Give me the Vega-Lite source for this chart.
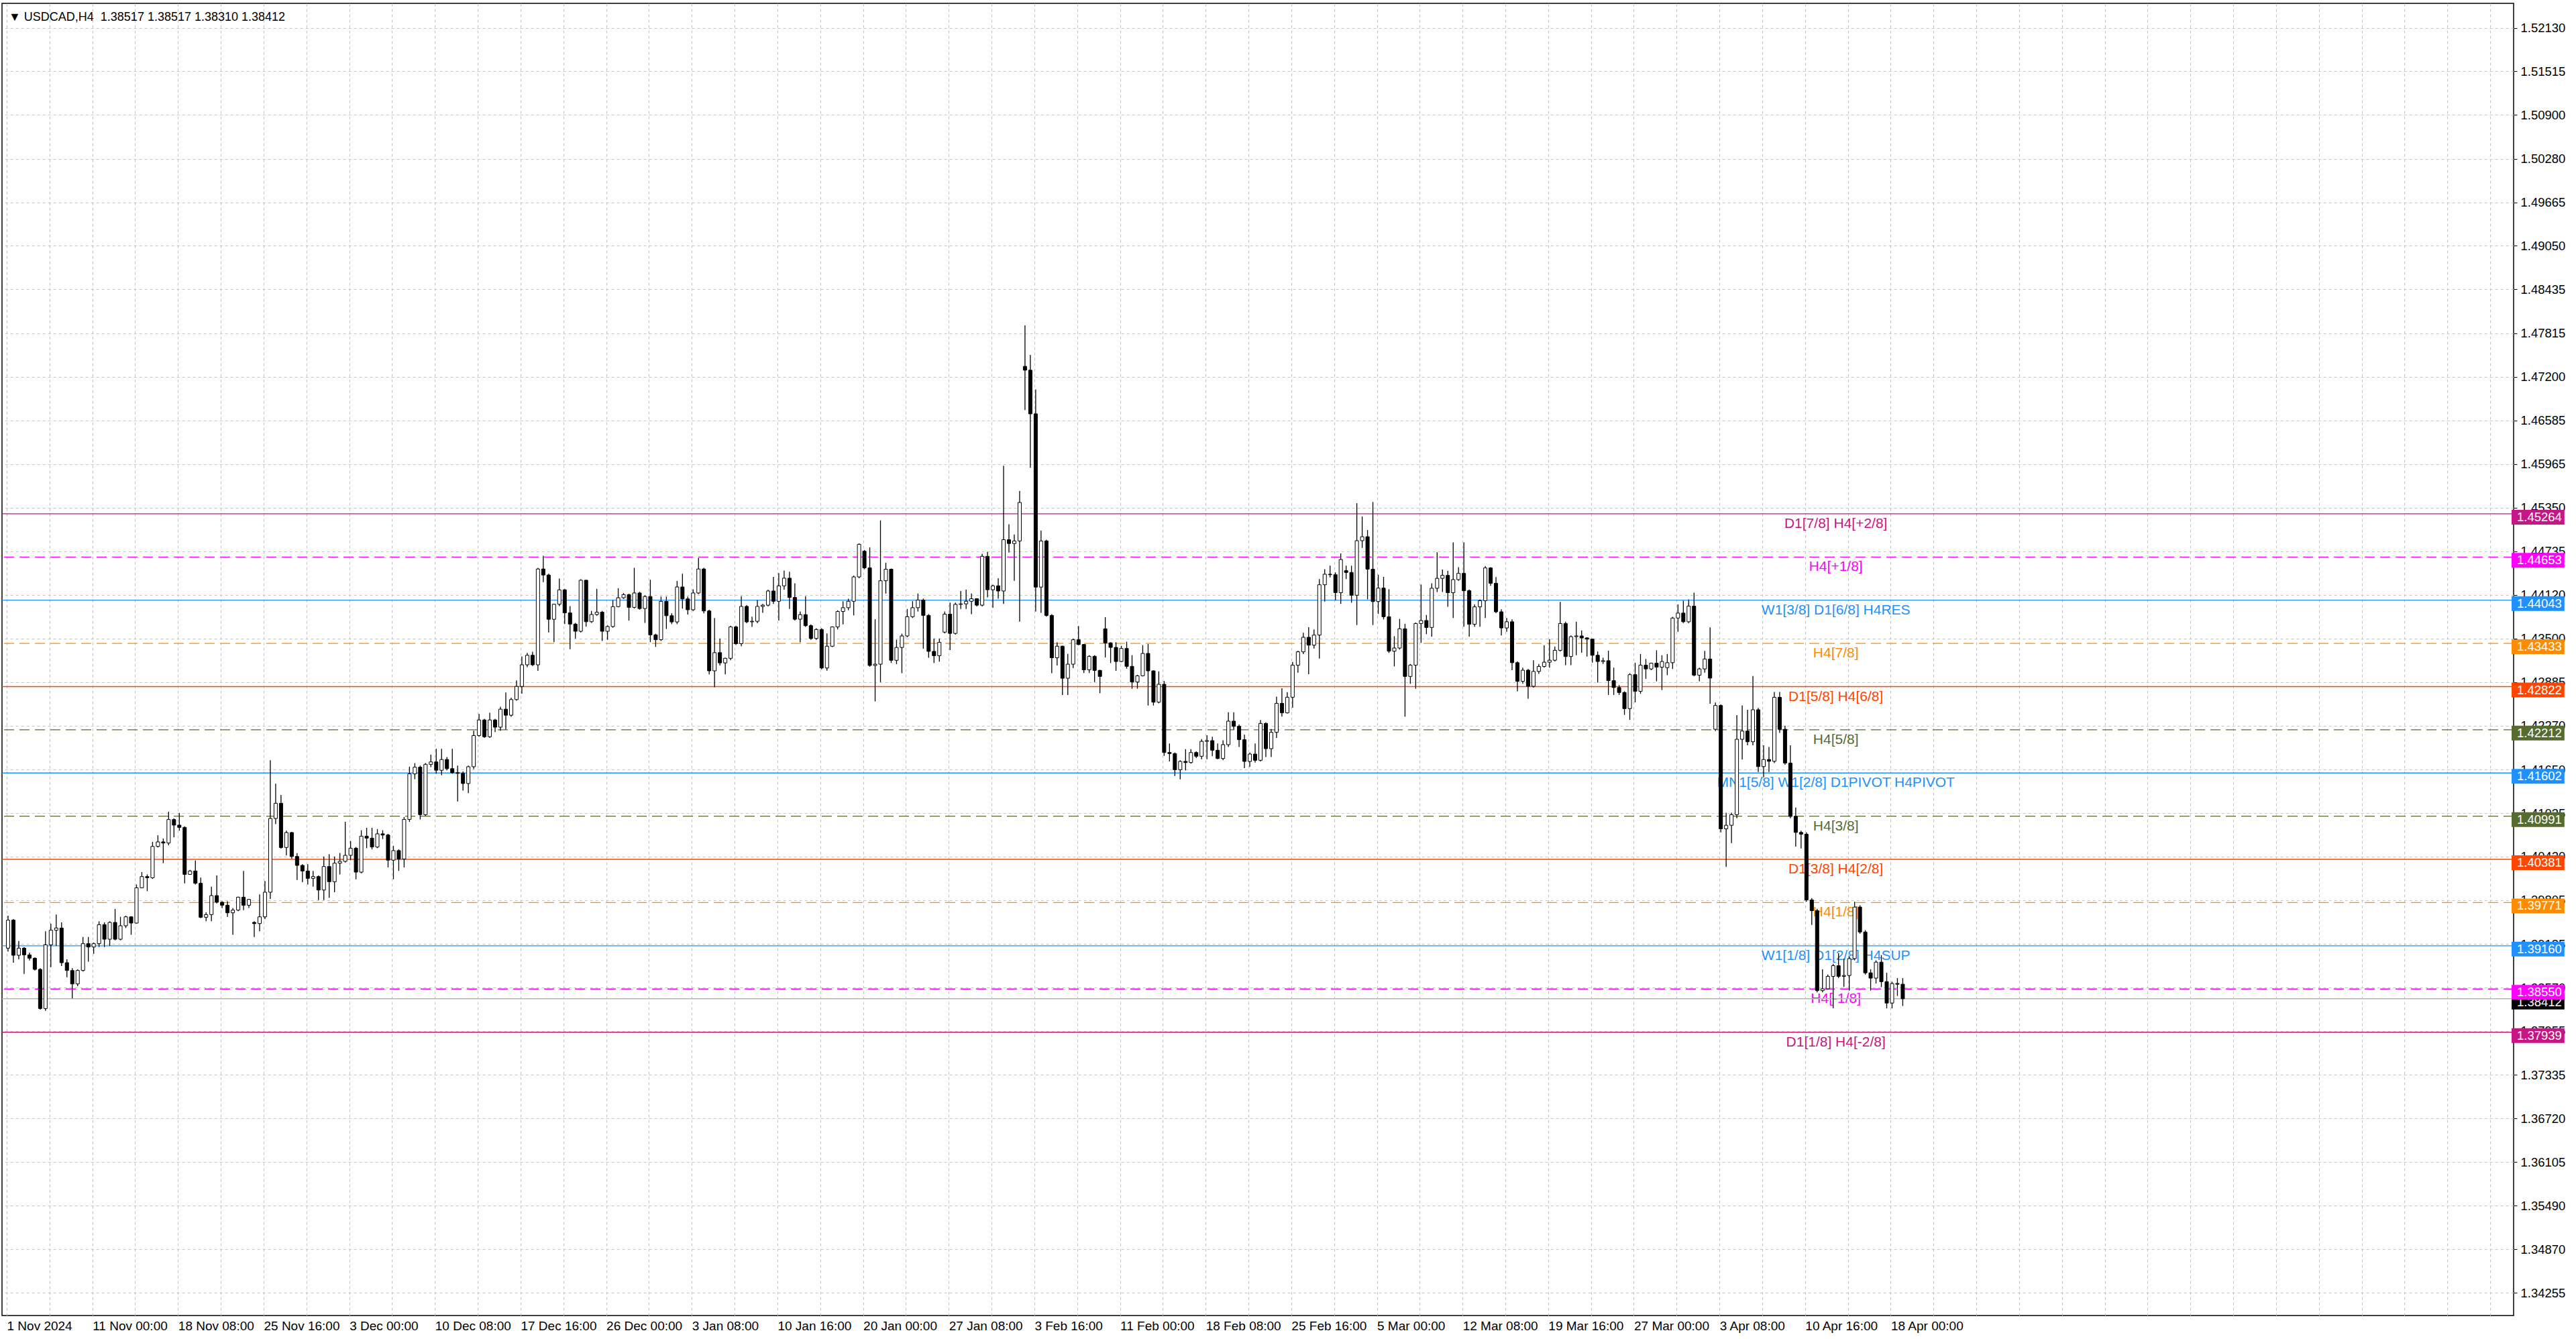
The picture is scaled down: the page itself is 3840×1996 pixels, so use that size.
{
"$schema":"https://vega.github.io/schema/vega-lite/v6.json",
"width":3744,"height":1956,
"autosize":{"type":"none"},
"padding":{"left":3,"top":5,"right":93,"bottom":35},
"background":"white",
"config":{"view":{"stroke":"black","strokeWidth":1.5}},
"datasets":{
"levels":[
{"p":1.45264,"oct":10,"txt":"D1[7/8] H4[+2/8]"},
{"p":1.44653,"oct":9,"txt":"H4[+1/8]"},
{"p":1.44043,"oct":8,"txt":"W1[3/8] D1[6/8] H4RES"},
{"p":1.43433,"oct":7,"txt":"H4[7/8]"},
{"p":1.42822,"oct":6,"txt":"D1[5/8] H4[6/8]"},
{"p":1.42212,"oct":5,"txt":"H4[5/8]"},
{"p":1.41602,"oct":4,"txt":"MN1[5/8] W1[2/8] D1PIVOT H4PIVOT"},
{"p":1.40991,"oct":3,"txt":"H4[3/8]"},
{"p":1.40381,"oct":2,"txt":"D1[3/8] H4[2/8]"},
{"p":1.39771,"oct":1,"txt":"H4[1/8]"},
{"p":1.39160,"oct":0,"txt":"W1[1/8] D1[2/8] H4SUP"},
{"p":1.38550,"oct":-1,"txt":"H4[-1/8]"},
{"p":1.37939,"oct":-2,"txt":"D1[1/8] H4[-2/8]"}
],
"last":[{"p":1.38412}],
"head":[{"txt":"▼ USDCAD,H4\u00a0\u00a01.38517 1.38517 1.38310 1.38412"}],
"bars":[
{"i":0,"o":1.39127,"h":1.39585,"l":1.39079,"c":1.39522},
{"i":2,"o":1.39522,"h":1.39537,"l":1.38921,"c":1.39026},
{"i":4,"o":1.39026,"h":1.39228,"l":1.38969,"c":1.39127},
{"i":6,"o":1.39127,"h":1.39143,"l":1.38763,"c":1.39032},
{"i":8,"o":1.39032,"h":1.39064,"l":1.38953,"c":1.38985},
{"i":10,"o":1.38985,"h":1.38994,"l":1.38811,"c":1.38827},
{"i":12,"o":1.38827,"h":1.38843,"l":1.38258,"c":1.38274},
{"i":14,"o":1.38274,"h":1.39364,"l":1.38242,"c":1.39174},
{"i":16,"o":1.39174,"h":1.39474,"l":1.38858,"c":1.39380},
{"i":18,"o":1.39380,"h":1.39601,"l":1.39159,"c":1.39411},
{"i":20,"o":1.39411,"h":1.39490,"l":1.38874,"c":1.38921},
{"i":22,"o":1.38921,"h":1.38969,"l":1.38716,"c":1.38811},
{"i":24,"o":1.38811,"h":1.38843,"l":1.38416,"c":1.38621},
{"i":26,"o":1.38621,"h":1.38827,"l":1.38589,"c":1.38811},
{"i":28,"o":1.38811,"h":1.39285,"l":1.38795,"c":1.39190},
{"i":30,"o":1.39190,"h":1.39285,"l":1.38937,"c":1.39143},
{"i":32,"o":1.39143,"h":1.39206,"l":1.39048,"c":1.39190},
{"i":34,"o":1.39190,"h":1.39506,"l":1.39143,"c":1.39459},
{"i":36,"o":1.39459,"h":1.39490,"l":1.39143,"c":1.39253},
{"i":38,"o":1.39253,"h":1.39506,"l":1.39159,"c":1.39490},
{"i":40,"o":1.39490,"h":1.39680,"l":1.39237,"c":1.39253},
{"i":42,"o":1.39253,"h":1.39569,"l":1.39237,"c":1.39443},
{"i":44,"o":1.39443,"h":1.39585,"l":1.39411,"c":1.39569},
{"i":46,"o":1.39569,"h":1.39577,"l":1.39316,"c":1.39481},
{"i":48,"o":1.39481,"h":1.40027,"l":1.39474,"c":1.39980},
{"i":50,"o":1.39980,"h":1.40201,"l":1.39973,"c":1.40138},
{"i":52,"o":1.40138,"h":1.40169,"l":1.39932,"c":1.40122},
{"i":54,"o":1.40122,"h":1.40628,"l":1.40106,"c":1.40564},
{"i":56,"o":1.40564,"h":1.40722,"l":1.40549,"c":1.40628},
{"i":58,"o":1.40628,"h":1.40675,"l":1.40327,"c":1.40612},
{"i":60,"o":1.40612,"h":1.41054,"l":1.40580,"c":1.40944},
{"i":62,"o":1.40944,"h":1.40959,"l":1.40691,"c":1.40865},
{"i":64,"o":1.40865,"h":1.41038,"l":1.40786,"c":1.40833},
{"i":66,"o":1.40833,"h":1.40849,"l":1.40043,"c":1.40169},
{"i":68,"o":1.40169,"h":1.40233,"l":1.40163,"c":1.40217},
{"i":70,"o":1.40217,"h":1.40365,"l":1.40027,"c":1.40043},
{"i":72,"o":1.40043,"h":1.40122,"l":1.39553,"c":1.39563},
{"i":74,"o":1.39563,"h":1.39632,"l":1.39506,"c":1.39601},
{"i":76,"o":1.39601,"h":1.39996,"l":1.39506,"c":1.39869},
{"i":78,"o":1.39869,"h":1.40154,"l":1.39759,"c":1.39775},
{"i":80,"o":1.39775,"h":1.39790,"l":1.39695,"c":1.39733},
{"i":82,"o":1.39733,"h":1.39790,"l":1.39569,"c":1.39626},
{"i":84,"o":1.39626,"h":1.39695,"l":1.39316,"c":1.39664},
{"i":86,"o":1.39664,"h":1.39853,"l":1.39648,"c":1.39847},
{"i":88,"o":1.39847,"h":1.40217,"l":1.39664,"c":1.39733},
{"i":90,"o":1.39733,"h":1.39822,"l":1.39695,"c":1.39815},
{"i":92,"o":1.39490,"h":1.39506,"l":1.39285,"c":1.39474},
{"i":94,"o":1.39474,"h":1.39885,"l":1.39364,"c":1.39569},
{"i":96,"o":1.39569,"h":1.40075,"l":1.39538,"c":1.39917},
{"i":98,"o":1.39917,"h":1.41781,"l":1.39822,"c":1.40959},
{"i":100,"o":1.40959,"h":1.41449,"l":1.40880,"c":1.41174},
{"i":102,"o":1.41174,"h":1.41291,"l":1.40533,"c":1.40549},
{"i":104,"o":1.40549,"h":1.40786,"l":1.40438,"c":1.40760},
{"i":106,"o":1.40760,"h":1.40770,"l":1.40391,"c":1.40422},
{"i":108,"o":1.40422,"h":1.40470,"l":1.40090,"c":1.40296},
{"i":110,"o":1.40296,"h":1.40312,"l":1.40059,"c":1.40217},
{"i":112,"o":1.40217,"h":1.40312,"l":1.40027,"c":1.40113},
{"i":114,"o":1.40113,"h":1.40217,"l":1.39996,"c":1.40138},
{"i":116,"o":1.40138,"h":1.40154,"l":1.39806,"c":1.39948},
{"i":118,"o":1.39948,"h":1.40422,"l":1.39806,"c":1.40280},
{"i":120,"o":1.40280,"h":1.40454,"l":1.39838,"c":1.40065},
{"i":122,"o":1.40065,"h":1.40422,"l":1.39917,"c":1.40327},
{"i":124,"o":1.40327,"h":1.40471,"l":1.40167,"c":1.40353},
{"i":126,"o":1.40353,"h":1.40912,"l":1.40336,"c":1.40438},
{"i":128,"o":1.40438,"h":1.40641,"l":1.40370,"c":1.40539},
{"i":130,"o":1.40539,"h":1.40556,"l":1.40099,"c":1.40201},
{"i":132,"o":1.40201,"h":1.40793,"l":1.40184,"c":1.40709},
{"i":134,"o":1.40709,"h":1.40827,"l":1.40539,"c":1.40681},
{"i":136,"o":1.40681,"h":1.40827,"l":1.40522,"c":1.40556},
{"i":138,"o":1.40556,"h":1.40810,"l":1.40539,"c":1.40742},
{"i":140,"o":1.40742,"h":1.40793,"l":1.40668,"c":1.40725},
{"i":142,"o":1.40725,"h":1.40742,"l":1.40268,"c":1.40370},
{"i":144,"o":1.40370,"h":1.40573,"l":1.40099,"c":1.40505},
{"i":146,"o":1.40505,"h":1.40522,"l":1.40218,"c":1.40387},
{"i":148,"o":1.40387,"h":1.40980,"l":1.40268,"c":1.40946},
{"i":150,"o":1.40946,"h":1.41690,"l":1.40912,"c":1.41589},
{"i":152,"o":1.41589,"h":1.41741,"l":1.41514,"c":1.41684},
{"i":154,"o":1.41684,"h":1.41707,"l":1.40946,"c":1.41013},
{"i":156,"o":1.41013,"h":1.41741,"l":1.40996,"c":1.41724},
{"i":158,"o":1.41724,"h":1.41860,"l":1.41684,"c":1.41758},
{"i":160,"o":1.41758,"h":1.41944,"l":1.41589,"c":1.41640},
{"i":162,"o":1.41640,"h":1.41944,"l":1.41572,"c":1.41792},
{"i":164,"o":1.41792,"h":1.41826,"l":1.41640,"c":1.41663},
{"i":166,"o":1.41663,"h":1.41944,"l":1.41589,"c":1.41606},
{"i":168,"o":1.41606,"h":1.41707,"l":1.41199,"c":1.41596},
{"i":170,"o":1.41596,"h":1.41623,"l":1.41352,"c":1.41453},
{"i":172,"o":1.41453,"h":1.41707,"l":1.41318,"c":1.41690},
{"i":174,"o":1.41690,"h":1.42198,"l":1.41657,"c":1.42131},
{"i":176,"o":1.42131,"h":1.42435,"l":1.42114,"c":1.42351},
{"i":178,"o":1.42351,"h":1.42368,"l":1.42097,"c":1.42114},
{"i":180,"o":1.42114,"h":1.42452,"l":1.42097,"c":1.42351},
{"i":182,"o":1.42351,"h":1.42368,"l":1.42181,"c":1.42249},
{"i":184,"o":1.42249,"h":1.42537,"l":1.42198,"c":1.42503},
{"i":186,"o":1.42503,"h":1.42740,"l":1.42215,"c":1.42418},
{"i":188,"o":1.42418,"h":1.42666,"l":1.42395,"c":1.42639},
{"i":190,"o":1.42639,"h":1.42909,"l":1.42622,"c":1.42825},
{"i":192,"o":1.42825,"h":1.43248,"l":1.42723,"c":1.43130},
{"i":194,"o":1.43130,"h":1.43299,"l":1.43096,"c":1.43265},
{"i":196,"o":1.43265,"h":1.43316,"l":1.43113,"c":1.43130},
{"i":198,"o":1.43130,"h":1.44501,"l":1.43045,"c":1.44484},
{"i":200,"o":1.44484,"h":1.44670,"l":1.44298,"c":1.44399},
{"i":202,"o":1.44399,"h":1.44416,"l":1.43587,"c":1.43773},
{"i":204,"o":1.43773,"h":1.43993,"l":1.43451,"c":1.43986},
{"i":206,"o":1.43986,"h":1.44348,"l":1.43959,"c":1.44189},
{"i":208,"o":1.44189,"h":1.44203,"l":1.43705,"c":1.43864},
{"i":210,"o":1.43864,"h":1.43959,"l":1.43350,"c":1.43705},
{"i":212,"o":1.43705,"h":1.43722,"l":1.43502,"c":1.43604},
{"i":214,"o":1.43604,"h":1.44338,"l":1.43587,"c":1.44325},
{"i":216,"o":1.44325,"h":1.44332,"l":1.43671,"c":1.43739},
{"i":218,"o":1.43739,"h":1.43891,"l":1.43722,"c":1.43841},
{"i":220,"o":1.43841,"h":1.44203,"l":1.43824,"c":1.43874},
{"i":222,"o":1.43874,"h":1.43891,"l":1.43468,"c":1.43604},
{"i":224,"o":1.43604,"h":1.43688,"l":1.43485,"c":1.43671},
{"i":226,"o":1.43671,"h":1.44044,"l":1.43654,"c":1.43952},
{"i":228,"o":1.43952,"h":1.44213,"l":1.43942,"c":1.44078},
{"i":230,"o":1.44078,"h":1.44145,"l":1.44061,"c":1.44122},
{"i":232,"o":1.44122,"h":1.44135,"l":1.43756,"c":1.43942},
{"i":234,"o":1.43942,"h":1.44501,"l":1.43925,"c":1.44145},
{"i":236,"o":1.44145,"h":1.44162,"l":1.43908,"c":1.43925},
{"i":238,"o":1.43925,"h":1.44111,"l":1.43722,"c":1.44095},
{"i":240,"o":1.44095,"h":1.44332,"l":1.43451,"c":1.43553},
{"i":242,"o":1.43553,"h":1.43570,"l":1.43383,"c":1.43485},
{"i":244,"o":1.43485,"h":1.44095,"l":1.43468,"c":1.44027},
{"i":246,"o":1.44027,"h":1.44095,"l":1.43637,"c":1.43824},
{"i":248,"o":1.43824,"h":1.43858,"l":1.43705,"c":1.43736},
{"i":250,"o":1.43736,"h":1.44315,"l":1.43705,"c":1.44230},
{"i":252,"o":1.44230,"h":1.44416,"l":1.43925,"c":1.44061},
{"i":254,"o":1.44061,"h":1.44095,"l":1.43841,"c":1.43908},
{"i":256,"o":1.43908,"h":1.44196,"l":1.43891,"c":1.44145},
{"i":258,"o":1.44145,"h":1.44643,"l":1.44128,"c":1.44484},
{"i":260,"o":1.44484,"h":1.44501,"l":1.43858,"c":1.43891},
{"i":262,"o":1.43891,"h":1.43908,"l":1.42994,"c":1.43045},
{"i":264,"o":1.43045,"h":1.43792,"l":1.42813,"c":1.43302},
{"i":266,"o":1.43302,"h":1.43502,"l":1.43121,"c":1.43157},
{"i":268,"o":1.43157,"h":1.43230,"l":1.42994,"c":1.43222},
{"i":270,"o":1.43222,"h":1.43683,"l":1.43194,"c":1.43665},
{"i":272,"o":1.43665,"h":1.43683,"l":1.43411,"c":1.43429},
{"i":274,"o":1.43429,"h":1.44100,"l":1.43393,"c":1.43955},
{"i":276,"o":1.43955,"h":1.43973,"l":1.43719,"c":1.43737},
{"i":278,"o":1.43737,"h":1.43810,"l":1.43665,"c":1.43745},
{"i":280,"o":1.43745,"h":1.44046,"l":1.43719,"c":1.43955},
{"i":282,"o":1.43955,"h":1.43991,"l":1.43865,"c":1.43973},
{"i":284,"o":1.43973,"h":1.44191,"l":1.43955,"c":1.44173},
{"i":286,"o":1.44173,"h":1.44372,"l":1.43991,"c":1.44028},
{"i":288,"o":1.44028,"h":1.44427,"l":1.43756,"c":1.44246},
{"i":290,"o":1.44246,"h":1.44463,"l":1.44191,"c":1.44354},
{"i":292,"o":1.44354,"h":1.44445,"l":1.43919,"c":1.44082},
{"i":294,"o":1.44082,"h":1.44282,"l":1.43756,"c":1.43774},
{"i":296,"o":1.43774,"h":1.43883,"l":1.43447,"c":1.43839},
{"i":298,"o":1.43839,"h":1.44100,"l":1.43665,"c":1.43683},
{"i":300,"o":1.43683,"h":1.43701,"l":1.43484,"c":1.43502},
{"i":302,"o":1.43502,"h":1.43647,"l":1.43484,"c":1.43629},
{"i":304,"o":1.43629,"h":1.43647,"l":1.43066,"c":1.43085},
{"i":306,"o":1.43085,"h":1.43574,"l":1.43048,"c":1.43393},
{"i":308,"o":1.43393,"h":1.43672,"l":1.43382,"c":1.43665},
{"i":310,"o":1.43665,"h":1.43900,"l":1.43629,"c":1.43883},
{"i":312,"o":1.43883,"h":1.44028,"l":1.43701,"c":1.43937},
{"i":314,"o":1.43937,"h":1.44064,"l":1.43901,"c":1.44028},
{"i":316,"o":1.44028,"h":1.44391,"l":1.43828,"c":1.44372},
{"i":318,"o":1.44372,"h":1.44844,"l":1.44354,"c":1.44833},
{"i":320,"o":1.44735,"h":1.44753,"l":1.44481,"c":1.44500},
{"i":322,"o":1.44500,"h":1.44790,"l":1.43103,"c":1.43121},
{"i":324,"o":1.43121,"h":1.43774,"l":1.42613,"c":1.43139},
{"i":326,"o":1.43139,"h":1.45171,"l":1.42885,"c":1.44318},
{"i":328,"o":1.44318,"h":1.44572,"l":1.44137,"c":1.44481},
{"i":330,"o":1.44481,"h":1.44490,"l":1.43157,"c":1.43194},
{"i":332,"o":1.43194,"h":1.43484,"l":1.43139,"c":1.43375},
{"i":334,"o":1.43375,"h":1.43570,"l":1.43012,"c":1.43538},
{"i":336,"o":1.43538,"h":1.43919,"l":1.43520,"c":1.43810},
{"i":338,"o":1.43810,"h":1.44028,"l":1.43792,"c":1.43937},
{"i":340,"o":1.43937,"h":1.44137,"l":1.43883,"c":1.44046},
{"i":342,"o":1.44046,"h":1.44064,"l":1.43357,"c":1.43828},
{"i":344,"o":1.43828,"h":1.43846,"l":1.43230,"c":1.43320},
{"i":346,"o":1.43320,"h":1.43502,"l":1.43157,"c":1.43259},
{"i":348,"o":1.43259,"h":1.43502,"l":1.43176,"c":1.43447},
{"i":350,"o":1.43592,"h":1.43883,"l":1.43574,"c":1.43846},
{"i":352,"o":1.43846,"h":1.44010,"l":1.43338,"c":1.43574},
{"i":354,"o":1.43574,"h":1.44010,"l":1.43556,"c":1.43984},
{"i":356,"o":1.43984,"h":1.44173,"l":1.43919,"c":1.43991},
{"i":358,"o":1.43991,"h":1.44191,"l":1.43919,"c":1.44028},
{"i":360,"o":1.44028,"h":1.44137,"l":1.43846,"c":1.44064},
{"i":362,"o":1.44064,"h":1.44071,"l":1.43955,"c":1.43973},
{"i":364,"o":1.43973,"h":1.44699,"l":1.43955,"c":1.44663},
{"i":366,"o":1.44663,"h":1.44724,"l":1.44082,"c":1.44191},
{"i":368,"o":1.44191,"h":1.44264,"l":1.43937,"c":1.44246},
{"i":370,"o":1.44246,"h":1.44354,"l":1.44064,"c":1.44173},
{"i":372,"o":1.44173,"h":1.45943,"l":1.43991,"c":1.44898},
{"i":374,"o":1.44898,"h":1.45116,"l":1.44717,"c":1.44844},
{"i":376,"o":1.44844,"h":1.44971,"l":1.44318,"c":1.44880},
{"i":378,"o":1.44880,"h":1.45588,"l":1.43738,"c":1.45424},
{"i":380,"o":1.47347,"h":1.47927,"l":1.46730,"c":1.47293},
{"i":382,"o":1.47293,"h":1.47510,"l":1.45914,"c":1.46676},
{"i":384,"o":1.46676,"h":1.47020,"l":1.43883,"c":1.44228},
{"i":386,"o":1.44228,"h":1.45025,"l":1.43865,"c":1.44880},
{"i":388,"o":1.44880,"h":1.44898,"l":1.43810,"c":1.43828},
{"i":390,"o":1.43828,"h":1.43846,"l":1.43012,"c":1.43230},
{"i":392,"o":1.43230,"h":1.43447,"l":1.43121,"c":1.43393},
{"i":394,"o":1.43393,"h":1.43400,"l":1.42704,"c":1.42940},
{"i":396,"o":1.42940,"h":1.43284,"l":1.42704,"c":1.43139},
{"i":398,"o":1.43139,"h":1.43502,"l":1.43085,"c":1.43484},
{"i":400,"o":1.43484,"h":1.43677,"l":1.43408,"c":1.43417},
{"i":402,"o":1.43417,"h":1.43424,"l":1.43013,"c":1.43060},
{"i":404,"o":1.43060,"h":1.43266,"l":1.43013,"c":1.43250},
{"i":406,"o":1.43250,"h":1.43266,"l":1.42887,"c":1.43051},
{"i":408,"o":1.43051,"h":1.43060,"l":1.42729,"c":1.42966},
{"i":410,"o":1.43639,"h":1.43803,"l":1.43234,"c":1.43440},
{"i":412,"o":1.43440,"h":1.43449,"l":1.43155,"c":1.43376},
{"i":414,"o":1.43376,"h":1.43449,"l":1.43045,"c":1.43177},
{"i":416,"o":1.43177,"h":1.43398,"l":1.43171,"c":1.43361},
{"i":418,"o":1.43361,"h":1.43456,"l":1.43076,"c":1.43108},
{"i":420,"o":1.43108,"h":1.43266,"l":1.42792,"c":1.42887},
{"i":422,"o":1.42887,"h":1.42988,"l":1.42792,"c":1.42975},
{"i":424,"o":1.42975,"h":1.43408,"l":1.42966,"c":1.43291},
{"i":426,"o":1.43291,"h":1.43424,"l":1.42555,"c":1.43045},
{"i":428,"o":1.43045,"h":1.43051,"l":1.42555,"c":1.42602},
{"i":430,"o":1.42602,"h":1.43038,"l":1.42586,"c":1.42855},
{"i":432,"o":1.42855,"h":1.42902,"l":1.41844,"c":1.41891},
{"i":434,"o":1.41891,"h":1.42018,"l":1.41765,"c":1.41876},
{"i":436,"o":1.41876,"h":1.41891,"l":1.41559,"c":1.41648},
{"i":438,"o":1.41648,"h":1.41781,"l":1.41512,"c":1.41765},
{"i":440,"o":1.41765,"h":1.41939,"l":1.41638,"c":1.41749},
{"i":442,"o":1.41749,"h":1.41939,"l":1.41734,"c":1.41891},
{"i":444,"o":1.41891,"h":1.41907,"l":1.41813,"c":1.41838},
{"i":446,"o":1.41838,"h":1.42081,"l":1.41797,"c":1.42049},
{"i":448,"o":1.42049,"h":1.42135,"l":1.41797,"c":1.42059},
{"i":450,"o":1.42059,"h":1.42113,"l":1.41838,"c":1.41923},
{"i":452,"o":1.41923,"h":1.42018,"l":1.41797,"c":1.41806},
{"i":454,"o":1.41806,"h":1.42065,"l":1.41781,"c":1.42002},
{"i":456,"o":1.42002,"h":1.42460,"l":1.41970,"c":1.42334},
{"i":458,"o":1.42334,"h":1.42460,"l":1.42207,"c":1.42261},
{"i":460,"o":1.42261,"h":1.42286,"l":1.41970,"c":1.42072},
{"i":462,"o":1.42072,"h":1.42144,"l":1.41670,"c":1.41765},
{"i":464,"o":1.41765,"h":1.41891,"l":1.41686,"c":1.41869},
{"i":466,"o":1.41869,"h":1.42018,"l":1.41749,"c":1.41781},
{"i":468,"o":1.41781,"h":1.42350,"l":1.41765,"c":1.42302},
{"i":470,"o":1.42302,"h":1.42318,"l":1.41828,"c":1.41945},
{"i":472,"o":1.41945,"h":1.42223,"l":1.41828,"c":1.42176},
{"i":474,"o":1.42176,"h":1.42681,"l":1.42097,"c":1.42586},
{"i":476,"o":1.42586,"h":1.42798,"l":1.42397,"c":1.42451},
{"i":478,"o":1.42451,"h":1.42744,"l":1.42444,"c":1.42672},
{"i":480,"o":1.42672,"h":1.43171,"l":1.42523,"c":1.43124},
{"i":482,"o":1.43124,"h":1.43329,"l":1.43019,"c":1.43313},
{"i":484,"o":1.43313,"h":1.43582,"l":1.43282,"c":1.43519},
{"i":486,"o":1.43519,"h":1.43661,"l":1.42997,"c":1.43408},
{"i":488,"o":1.43408,"h":1.43629,"l":1.43361,"c":1.43550},
{"i":490,"o":1.43550,"h":1.44340,"l":1.43218,"c":1.44261},
{"i":492,"o":1.44261,"h":1.44482,"l":1.44024,"c":1.44410},
{"i":494,"o":1.44410,"h":1.44530,"l":1.44365,"c":1.44403},
{"i":496,"o":1.44403,"h":1.44435,"l":1.44040,"c":1.44150},
{"i":498,"o":1.44150,"h":1.44703,"l":1.43992,"c":1.44618},
{"i":500,"o":1.44460,"h":1.44530,"l":1.44340,"c":1.44435},
{"i":502,"o":1.44435,"h":1.44530,"l":1.44008,"c":1.44113},
{"i":504,"o":1.44113,"h":1.45414,"l":1.43692,"c":1.44884},
{"i":506,"o":1.44884,"h":1.45225,"l":1.44782,"c":1.44940},
{"i":508,"o":1.44940,"h":1.45035,"l":1.44056,"c":1.44482},
{"i":510,"o":1.44482,"h":1.45430,"l":1.43692,"c":1.44024},
{"i":512,"o":1.44024,"h":1.44403,"l":1.43850,"c":1.44214},
{"i":514,"o":1.44214,"h":1.44372,"l":1.43771,"c":1.43809},
{"i":516,"o":1.43809,"h":1.44198,"l":1.43297,"c":1.43323},
{"i":518,"o":1.43323,"h":1.43534,"l":1.43108,"c":1.43367},
{"i":520,"o":1.43367,"h":1.43778,"l":1.43345,"c":1.43639},
{"i":522,"o":1.43639,"h":1.43708,"l":1.42397,"c":1.42966},
{"i":524,"o":1.42966,"h":1.43142,"l":1.42862,"c":1.43125},
{"i":526,"o":1.43125,"h":1.43728,"l":1.42792,"c":1.43714},
{"i":528,"o":1.43714,"h":1.44264,"l":1.43440,"c":1.43756},
{"i":530,"o":1.43756,"h":1.43833,"l":1.43563,"c":1.43658},
{"i":532,"o":1.43658,"h":1.44282,"l":1.43528,"c":1.44212},
{"i":534,"o":1.44212,"h":1.44720,"l":1.44159,"c":1.44352},
{"i":536,"o":1.44352,"h":1.44475,"l":1.44159,"c":1.44394},
{"i":538,"o":1.44394,"h":1.44457,"l":1.43949,"c":1.44149},
{"i":540,"o":1.44149,"h":1.44860,"l":1.43791,"c":1.44334},
{"i":542,"o":1.44334,"h":1.44510,"l":1.44317,"c":1.44422},
{"i":544,"o":1.44422,"h":1.44860,"l":1.43668,"c":1.44177},
{"i":546,"o":1.44177,"h":1.44194,"l":1.43528,"c":1.43703},
{"i":548,"o":1.43703,"h":1.43984,"l":1.43668,"c":1.43949},
{"i":550,"o":1.43949,"h":1.44054,"l":1.43668,"c":1.44036},
{"i":552,"o":1.44036,"h":1.44527,"l":1.43791,"c":1.44499},
{"i":554,"o":1.44499,"h":1.44510,"l":1.44247,"c":1.44282},
{"i":556,"o":1.44282,"h":1.44369,"l":1.43861,"c":1.43879},
{"i":558,"o":1.43879,"h":1.43914,"l":1.43545,"c":1.43651},
{"i":560,"o":1.43651,"h":1.43791,"l":1.43598,"c":1.43738},
{"i":562,"o":1.43738,"h":1.43773,"l":1.43054,"c":1.43160},
{"i":564,"o":1.43160,"h":1.43177,"l":1.42756,"c":1.42897},
{"i":566,"o":1.42897,"h":1.43090,"l":1.42862,"c":1.43054},
{"i":568,"o":1.43054,"h":1.43072,"l":1.42651,"c":1.42827},
{"i":570,"o":1.42827,"h":1.43195,"l":1.42809,"c":1.43037},
{"i":572,"o":1.43037,"h":1.43142,"l":1.43002,"c":1.43107},
{"i":574,"o":1.43107,"h":1.43405,"l":1.43090,"c":1.43167},
{"i":576,"o":1.43167,"h":1.43493,"l":1.43090,"c":1.43195},
{"i":578,"o":1.43195,"h":1.43388,"l":1.43177,"c":1.43335},
{"i":580,"o":1.43335,"h":1.44019,"l":1.43318,"c":1.43714},
{"i":582,"o":1.43714,"h":1.43738,"l":1.43125,"c":1.43247},
{"i":584,"o":1.43247,"h":1.43545,"l":1.43125,"c":1.43528},
{"i":586,"o":1.43528,"h":1.43738,"l":1.43265,"c":1.43538},
{"i":588,"o":1.43538,"h":1.43616,"l":1.43300,"c":1.43510},
{"i":590,"o":1.43510,"h":1.43517,"l":1.43247,"c":1.43493},
{"i":592,"o":1.43493,"h":1.43500,"l":1.43160,"c":1.43265},
{"i":594,"o":1.43265,"h":1.43318,"l":1.42879,"c":1.43177},
{"i":596,"o":1.43177,"h":1.43230,"l":1.43142,"c":1.43188},
{"i":598,"o":1.43188,"h":1.43328,"l":1.42704,"c":1.42907},
{"i":600,"o":1.42907,"h":1.43090,"l":1.42704,"c":1.42809},
{"i":602,"o":1.42809,"h":1.42844,"l":1.42704,"c":1.42739},
{"i":604,"o":1.42739,"h":1.42756,"l":1.42423,"c":1.42511},
{"i":606,"o":1.42511,"h":1.43012,"l":1.42353,"c":1.42991},
{"i":608,"o":1.42991,"h":1.43160,"l":1.42599,"c":1.42756},
{"i":610,"o":1.42756,"h":1.43282,"l":1.42721,"c":1.43125},
{"i":612,"o":1.43125,"h":1.43212,"l":1.42932,"c":1.43072},
{"i":614,"o":1.43072,"h":1.43160,"l":1.43054,"c":1.43153},
{"i":616,"o":1.43153,"h":1.43335,"l":1.42897,"c":1.43097},
{"i":618,"o":1.43097,"h":1.43265,"l":1.42774,"c":1.43177},
{"i":620,"o":1.43090,"h":1.43282,"l":1.42984,"c":1.43160},
{"i":622,"o":1.43160,"h":1.43809,"l":1.43072,"c":1.43791},
{"i":624,"o":1.43791,"h":1.43984,"l":1.43598,"c":1.43861},
{"i":626,"o":1.43861,"h":1.44036,"l":1.43721,"c":1.43738},
{"i":628,"o":1.43738,"h":1.44054,"l":1.43721,"c":1.43959},
{"i":630,"o":1.43959,"h":1.44149,"l":1.42967,"c":1.42984},
{"i":632,"o":1.42984,"h":1.43090,"l":1.42897,"c":1.43072},
{"i":634,"o":1.43072,"h":1.43328,"l":1.43019,"c":1.43212},
{"i":636,"o":1.43212,"h":1.43658,"l":1.42581,"c":1.42942},
{"i":638,"o":1.42219,"h":1.42596,"l":1.42194,"c":1.42555},
{"i":640,"o":1.42555,"h":1.42571,"l":1.40762,"c":1.40812},
{"i":642,"o":1.40812,"h":1.41039,"l":1.40275,"c":1.40863},
{"i":644,"o":1.40863,"h":1.41039,"l":1.40612,"c":1.41013},
{"i":646,"o":1.41013,"h":1.42420,"l":1.40963,"c":1.42078},
{"i":648,"o":1.42078,"h":1.42556,"l":1.41792,"c":1.42194},
{"i":650,"o":1.42194,"h":1.42495,"l":1.41993,"c":1.42043},
{"i":652,"o":1.42043,"h":1.42972,"l":1.41993,"c":1.42495},
{"i":654,"o":1.42495,"h":1.42520,"l":1.41616,"c":1.41692},
{"i":656,"o":1.41692,"h":1.41993,"l":1.41541,"c":1.41792},
{"i":658,"o":1.41792,"h":1.41968,"l":1.41616,"c":1.41767},
{"i":660,"o":1.41767,"h":1.42746,"l":1.41742,"c":1.42671},
{"i":662,"o":1.42671,"h":1.42746,"l":1.42169,"c":1.42219},
{"i":664,"o":1.42219,"h":1.42269,"l":1.41717,"c":1.41742},
{"i":666,"o":1.41742,"h":1.41993,"l":1.40963,"c":1.40988},
{"i":668,"o":1.40988,"h":1.41114,"l":1.40561,"c":1.40762},
{"i":670,"o":1.40762,"h":1.40787,"l":1.40536,"c":1.40737},
{"i":672,"o":1.40737,"h":1.40762,"l":1.39783,"c":1.39808},
{"i":674,"o":1.39808,"h":1.39833,"l":1.39456,"c":1.39657},
{"i":676,"o":1.39657,"h":1.39682,"l":1.38502,"c":1.38527},
{"i":678,"o":1.38527,"h":1.38828,"l":1.38502,"c":1.38552},
{"i":680,"o":1.38552,"h":1.38753,"l":1.38540,"c":1.38728},
{"i":682,"o":1.38728,"h":1.38904,"l":1.38276,"c":1.38879},
{"i":684,"o":1.38879,"h":1.39054,"l":1.38703,"c":1.38728},
{"i":686,"o":1.38728,"h":1.38979,"l":1.38577,"c":1.38740},
{"i":688,"o":1.38740,"h":1.39004,"l":1.38527,"c":1.38979},
{"i":690,"o":1.38979,"h":1.39783,"l":1.38954,"c":1.39707},
{"i":692,"o":1.39707,"h":1.39732,"l":1.39330,"c":1.39355},
{"i":694,"o":1.39355,"h":1.39381,"l":1.38753,"c":1.38778},
{"i":696,"o":1.38778,"h":1.38828,"l":1.38527,"c":1.38703},
{"i":698,"o":1.38703,"h":1.38954,"l":1.38627,"c":1.38929},
{"i":700,"o":1.38929,"h":1.39029,"l":1.38577,"c":1.38653},
{"i":702,"o":1.38653,"h":1.38778,"l":1.38276,"c":1.38351},
{"i":704,"o":1.38351,"h":1.38653,"l":1.38276,"c":1.38627},
{"i":706,"o":1.38627,"h":1.38703,"l":1.38452,"c":1.38617},
{"i":708,"o":1.38617,"h":1.38703,"l":1.38310,"c":1.38412}
]},
"layer":[
{"data":{"name":"levels"},
 "mark":{"type":"rule"},
 "encoding":{
  "y":{"field":"p","type":"quantitative","scale":{"domain":[1.33936,1.52476],"nice":false,"zero":false},
   "axis":{"orient":"right","values":[1.34255,1.3487,1.3549,1.36105,1.3672,1.37335,1.37955,1.3857,1.39185,1.39805,1.4042,1.41035,1.4165,1.4227,1.42885,1.435,1.4412,1.44735,1.4535,1.45965,1.46585,1.472,1.47815,1.48435,1.4905,1.49665,1.5028,1.509,1.51515,1.5213],
    "format":".5f","grid":true,"gridColor":"#c4c4c4","gridDash":[4,4],"gridWidth":1,"domain":false,"ticks":true,"tickSize":5,"tickColor":"black","labelFont":"Liberation Sans","labelFontSize":18.5,"labelColor":"black","labelPadding":5,"labelOverlap":false,"labelBound":false,"labelFlush":false,"labelBaseline":"middle","title":null}},
  "color":{"field":"oct","type":"ordinal","scale":{"domain":[10,9,8,7,6,5,4,3,2,1,0,-1,-2],"range":["#C71585","#FF00FF","#1E90FF","#FF8C00","#FF4500","#556B2F","#1E90FF","#556B2F","#FF4500","#FF8C00","#1E90FF","#FF00FF","#C71585"]},"legend":null},
  "strokeDash":{"field":"oct","type":"ordinal","scale":{"domain":[10,9,8,7,6,5,4,3,2,1,0,-1,-2],"range":[[1,0],[15,8],[1,0],[15,8],[1,0],[15,8],[1,0],[15,8],[1,0],[15,8],[1,0],[15,8],[1,0]]},"legend":null},
  "strokeWidth":{"field":"oct","type":"ordinal","scale":{"domain":[10,9,8,7,6,5,4,3,2,1,0,-1,-2],"range":[1.2,1.5,1.2,1.5,1.2,1.5,2.8,1.5,1.2,1.5,1.2,1.5,1.2]},"legend":null}
 }},
{"data":{"name":"levels"},
 "mark":{"type":"text","align":"center","baseline":"alphabetic","dy":21,"fontSize":21,"font":"Liberation Sans"},
 "encoding":{
  "x":{"datum":683.5,"type":"quantitative","scale":{"domain":[-0.5,935.5],"nice":false,"zero":false}},
  "y":{"field":"p","type":"quantitative"},
  "text":{"field":"txt"},
  "color":{"field":"oct","type":"ordinal","legend":null}
 }},
{"data":{"name":"last"},
 "mark":{"type":"rule","color":"#b4b4b4","strokeWidth":1.5},
 "encoding":{"y":{"field":"p","type":"quantitative"}}},
{"data":{"name":"bars"},
 "mark":{"type":"rule","xOffset":2,"color":"black","strokeWidth":1.3},
 "encoding":{
  "x":{"field":"i","type":"quantitative","scale":{"domain":[-0.5,935.5],"nice":false,"zero":false},
   "axis":{"orient":"bottom","values":[0,16,32,48,64,80,96,112,128,144,160,176,192,208,224,240,256,272,288,304,320,336,352,368,384,400,416,432,448,464,480,496,512,528,544,560,576,592,608,624,640,656,672,688,704,720,736,752,768,784,800,816,832,848,864,880,896,912,928],
    "grid":true,"gridColor":"#c4c4c4","gridDash":[4,4],"gridWidth":1,"domain":false,"ticks":false,"labelAlign":"left","labelBaseline":"top","labelPadding":6,"labelFontSize":19,"labelColor":"black","labelFont":"Liberation Sans","labelOverlap":false,"labelBound":false,"labelFlush":false,"title":null,
    "labelExpr":"(datum.value % 32 == 0 && datum.value <= 704) ? ['1 Nov 2024','11 Nov 00:00','18 Nov 08:00','25 Nov 16:00','3 Dec 00:00','10 Dec 08:00','17 Dec 16:00','26 Dec 00:00','3 Jan 08:00','10 Jan 16:00','20 Jan 00:00','27 Jan 08:00','3 Feb 16:00','11 Feb 00:00','18 Feb 08:00','25 Feb 16:00','5 Mar 00:00','12 Mar 08:00','19 Mar 16:00','27 Mar 00:00','3 Apr 08:00','10 Apr 16:00','18 Apr 00:00'][datum.value / 32] : ''"}},
  "y":{"field":"l","type":"quantitative"},
  "y2":{"field":"h"}
 }},
{"data":{"name":"bars"},
 "mark":{"type":"bar","width":5,"xOffset":2,"stroke":"black","strokeWidth":1},
 "encoding":{
  "x":{"field":"i","type":"quantitative"},
  "y":{"field":"o","type":"quantitative"},
  "y2":{"field":"c"},
  "fill":{"condition":{"test":"datum.c < datum.o","value":"#000000"},"value":"#ffffff"}
 }},
{"data":{"name":"head"},
 "mark":{"type":"text","align":"left","baseline":"alphabetic","fontSize":18,"font":"Liberation Sans","color":"black"},
 "encoding":{
  "x":{"datum":0.75,"type":"quantitative"},
  "y":{"datum":1.5223,"type":"quantitative"},
  "text":{"field":"txt"}
 }},
{"data":{"name":"last"},
 "mark":{"type":"rect","yOffset":-6,"y2Offset":16,"color":"#000000"},
 "encoding":{
  "x":{"datum":936,"type":"quantitative"},
  "x2":{"datum":955.75},
  "y":{"field":"p","type":"quantitative"},
  "y2":{"field":"p"}
 }},
{"data":{"name":"last"},
 "mark":{"type":"text","align":"left","baseline":"middle","dy":5,"fontSize":18.5,"font":"Liberation Sans","color":"white"},
 "encoding":{
  "x":{"datum":938,"type":"quantitative"},
  "y":{"field":"p","type":"quantitative"},
  "text":{"field":"p","type":"quantitative","format":".5f"}
 }},
{"data":{"name":"levels"},
 "mark":{"type":"rect","yOffset":-6,"y2Offset":16},
 "encoding":{
  "x":{"datum":936,"type":"quantitative"},
  "x2":{"datum":955.75},
  "y":{"field":"p","type":"quantitative"},
  "y2":{"field":"p"},
  "color":{"field":"oct","type":"ordinal","legend":null}
 }},
{"data":{"name":"levels"},
 "mark":{"type":"text","align":"left","baseline":"middle","dy":5,"fontSize":18.5,"font":"Liberation Sans","color":"white"},
 "encoding":{
  "x":{"datum":938,"type":"quantitative"},
  "y":{"field":"p","type":"quantitative"},
  "text":{"field":"p","type":"quantitative","format":".5f"}
 }}
]
}
